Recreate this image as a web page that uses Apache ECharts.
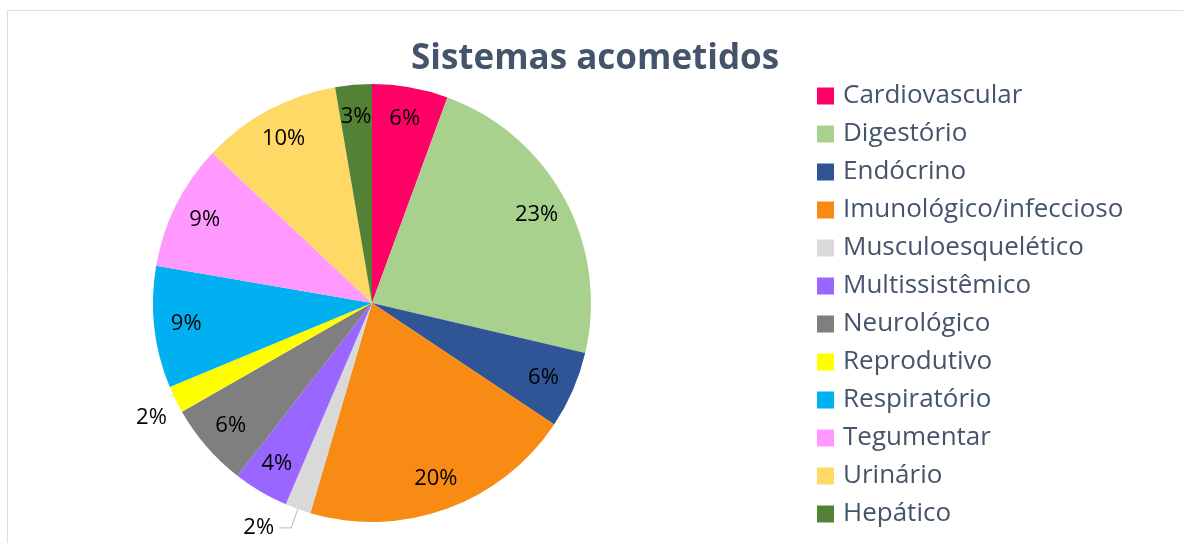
<!DOCTYPE html>
<html>
<head>
<meta charset="utf-8">
<script src="https://cdn.jsdelivr.net/npm/echarts@6/dist/echarts.min.js"></script>
<style>
  html, body { margin: 0; padding: 0; background: #fff; }
  #main { width: 1183px; height: 543px; }
</style>
</head>
<body>
<div id="main"></div>
<script>
// categorias e percentuais
var sistemas = ['Cardiovascular', 'Digestório', 'Endócrino', 'Imunológico/infeccioso',
  'Musculoesquelético', 'Multissistêmico', 'Neurológico', 'Reprodutivo',
  'Respiratório', 'Tegumentar', 'Urinário', 'Hepático'];
var valores = [5.6, 23.1, 5.7, 20.2, 1.9, 4.1, 6.2, 2.0, 9.0, 9.3, 10.3, 2.7];
var cores = ['#FF0066', '#A9D18E', '#2F5597', '#F78B13', '#D9D9D9', '#9966FF',
  '#7F7F7F', '#FFFF00', '#00B0F0', '#FF99FF', '#FFD966', '#538135'];

var fonte = 'Open Sans';
var R = 219;

window.onload = function () {
    var myChart = echarts.init(document.getElementById('main'));

    // fatias
    var fatias = [];
    // rótulos (série transparente por cima, para o texto ficar perto da borda)
    var rotulos = [];
    for (var i = 0; i < sistemas.length; i++) {
        fatias.push({ name: sistemas[i], value: valores[i], itemStyle: { color: cores[i] } });
        var r = { name: sistemas[i], value: valores[i] };
        if (sistemas[i] == 'Musculoesquelético') {
            r.label = { position: 'outside' };
            r.labelLine = { show: true, length: 20, length2: 12 };
        } else if (sistemas[i] == 'Reprodutivo') {
            // empurra o texto um pouco para baixo, como no original
            r.label = { position: 'outside', formatter: '\n{d}%', lineHeight: 32 };
            r.labelLine = { show: false, length: 4, length2: 0 };
        }
        rotulos.push(r);
    }

    myChart.setOption({
        animation: false,
        title: {
            text: 'Sistemas acometidos',
            left: 411,
            top: 42,
            padding: 0,
            textStyle: { fontFamily: fonte, fontSize: 35, fontWeight: 'bold', color: '#44546A' }
        },
        legend: {
            orient: 'vertical',
            left: 812,
            top: 77,
            icon: 'rect',
            itemWidth: 17,
            itemHeight: 17,
            itemGap: 10,
            data: sistemas,
            textStyle: { fontFamily: fonte, fontSize: 26, color: '#44546A', lineHeight: 28, padding: [0, 0, 0, 4] }
        },
        graphic: [{
            type: 'rect',
            shape: { x: 7.5, y: 10.5, width: 1300, height: 700 },
            style: { fill: 'none', stroke: '#D9DEE8', lineWidth: 1 },
            silent: true
        }],
        series: [{
            type: 'pie',
            center: [372, 303],
            radius: [0, R],
            startAngle: 90,
            clockwise: true,
            label: { show: false },
            labelLine: { show: false },
            data: fatias
        }, {
            type: 'pie',
            center: [372, 303],
            radius: [R * 0.68, R],
            startAngle: 90,
            clockwise: true,
            silent: true,
            percentPrecision: 0,
            itemStyle: { color: 'rgba(0,0,0,0)' },
            label: {
                show: true,
                position: 'inside',
                formatter: '{d}%',
                fontFamily: fonte,
                fontSize: 22,
                color: '#000'
            },
            labelLine: { show: false, lineStyle: { color: '#ADB9CA', width: 1 } },
            data: rotulos
        }]
    });
}
</script>
</body>
</html>
